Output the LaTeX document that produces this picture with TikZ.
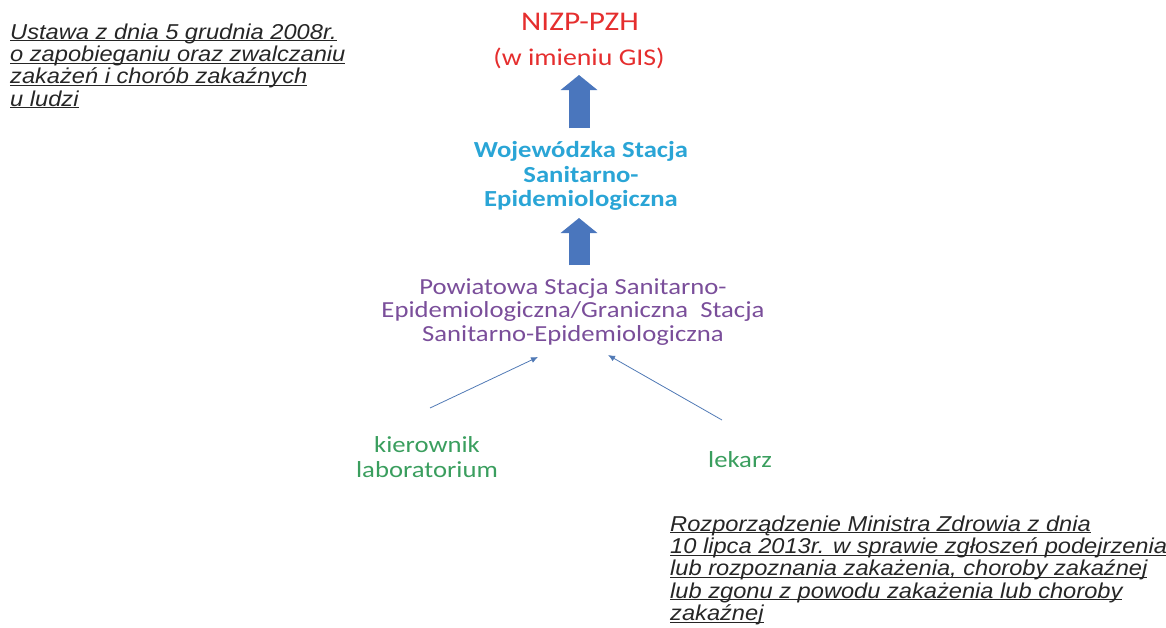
\documentclass[tikz,border=0pt]{standalone}
\usepackage{fontspec}
\setmainfont[FakeStretch=1.16]{Carlito}
\newfontfamily\lawfont[FakeStretch=1.1]{Liberation Sans}
\usetikzlibrary{arrows.meta,positioning}
\definecolor{nizpred}{HTML}{E52E2E}
\definecolor{wsscyan}{HTML}{2AA5D6}
\definecolor{psspurple}{HTML}{7A4E9A}
\definecolor{sendgreen}{HTML}{3A9E5E}
\definecolor{bigblue}{HTML}{4A76BD}
\definecolor{thinblue}{HTML}{5079B5}
\newcommand{\lawline}[1]{\underline{\smash{#1}}}
\begin{document}
\begin{tikzpicture}[x=1pt,y=-1pt,line join=round,
	law/.style={font=\lawfont\itshape\fontsize{21.5}{22.3}\selectfont,text=black!85,align=left,anchor=north west,inner sep=0pt},
	level/.style={align=center,inner sep=0pt},
	up/.style={bigblue,line width=21pt,-{Triangle[width=36pt,length=15pt]}},
	report/.style={thinblue,line width=0.8pt,-{Latex[length=7pt,width=6pt]}}]
	\useasboundingbox (0,0) rectangle (1166,627);
	% ustawy
	\node[law] (ustawa) at (10,39) {\lawline{Ustawa z dnia 5 grudnia 2008r.}\\
		\lawline{o zapobieganiu oraz zwalczaniu}\\
		\lawline{zakażeń i chorób zakaźnych}\\
		\lawline{u ludzi}};
	\node[law] (rozp) at (670,531) {\lawline{Rozporządzenie Ministra Zdrowia z dnia}\\
		\lawline{10 lipca 2013r. w sprawie zgłoszeń podejrzenia}\\
		\lawline{lub rozpoznania zakażenia, choroby zakaźnej}\\
		\lawline{lub zgonu z powodu zakażenia lub choroby}\\
		\lawline{zakaźnej}};
	% poziomy
	\node[level,text=nizpred,font=\fontsize{27}{30}\selectfont] (nizp) at (580,22) {NIZP-PZH};
	\node[level,text=nizpred,font=\fontsize{24}{28}\selectfont] (gis) at (579,58) {(w imieniu GIS)};
	\node[level,text=wsscyan,font=\bfseries\fontsize{23}{24.5}\selectfont] (wss) at (581,176) {Wojewódzka Stacja\\Sanitarno-\\Epidemiologiczna};
	\node[level,text=psspurple,font=\fontsize{23}{23.5}\selectfont] (pss) at (573,312) {Powiatowa Stacja Sanitarno-\\Epidemiologiczna/Graniczna\ \ Stacja\\Sanitarno-Epidemiologiczna};
	\node[level,text=sendgreen,font=\fontsize{23}{25}\selectfont] (kier) at (427,457) {kierownik\\laboratorium};
	\node[level,text=sendgreen,font=\fontsize{23}{25}\selectfont] (lek) at (740,460) {lekarz};
	% strzalki
	\draw[up] (wss.north -| 579,0) ++(0,-13) -- (579,75);
	\draw[up] (pss.north -| 579,0) ++(0,-13) -- (579,218);
	\draw[report] (430,408) -- (538,357);
	\draw[report] (722,420) -- (608,355);
\end{tikzpicture}
\end{document}
